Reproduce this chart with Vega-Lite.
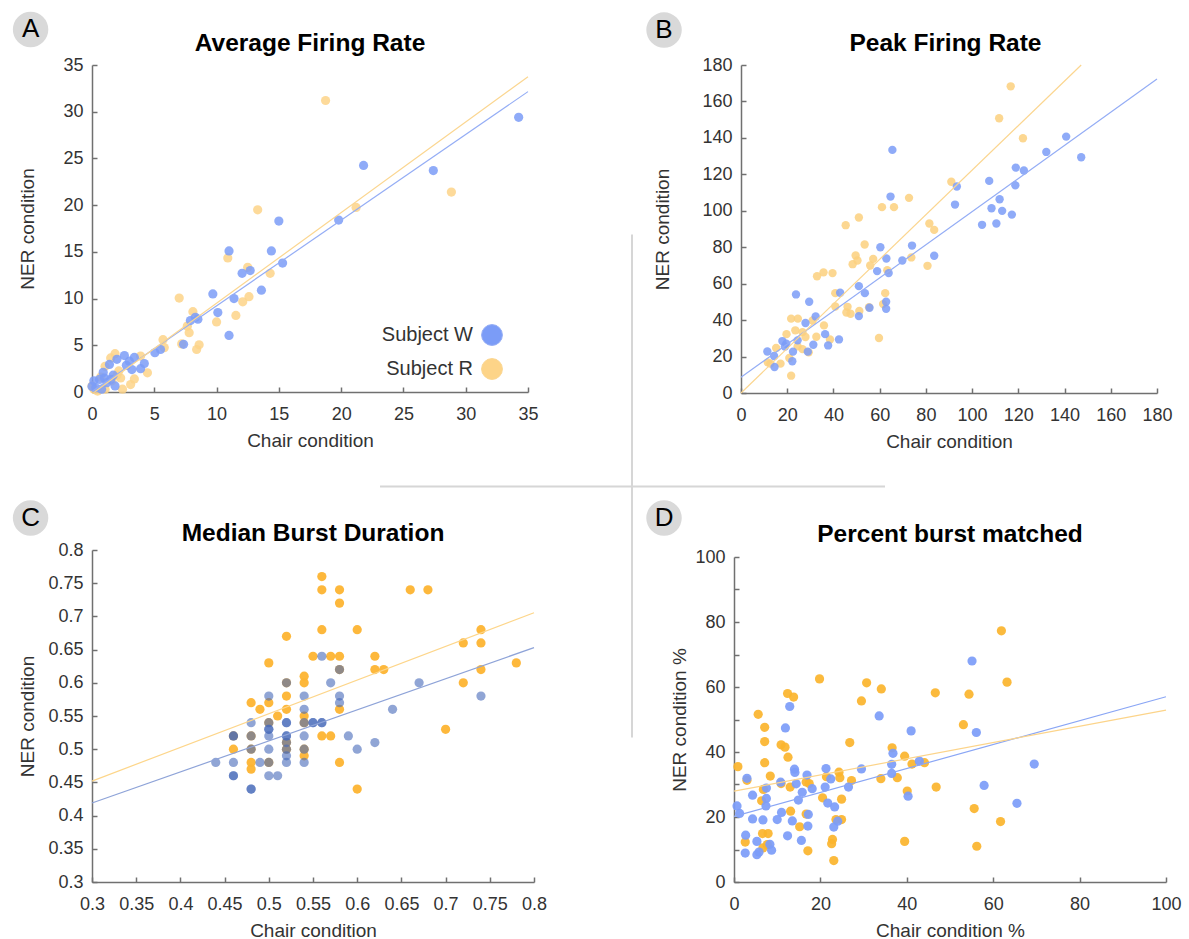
{
  "$schema": "https://vega.github.io/schema/vega-lite/v6.json",
  "autosize": {"type": "none"},
  "padding": {"left": 92, "top": 65, "right": 1097, "bottom": 874},
  "background": "white",
  "columns": 2,
  "spacing": {"row": 157, "column": 200},
  "bounds": "flush",
  "align": "each",
  "resolve": {"scale": {"color": "independent", "stroke": "independent"}, "legend": {"color": "independent"}},
  "datasets": {
    "A_pts": [
      {"subject": "Subject R", "chair": 0, "ner": 0.65}, {"subject": "Subject R", "chair": 0.15, "ner": 0.3}, {"subject": "Subject R", "chair": 0.45, "ner": 0.1}, {"subject": "Subject R", "chair": 1.05, "ner": 0.3}, {"subject": "Subject R", "chair": 2.45, "ner": 0.3}, {"subject": "Subject R", "chair": 3.1, "ner": 0.8}, {"subject": "Subject R", "chair": 3.4, "ner": 1.4}, {"subject": "Subject R", "chair": 2.3, "ner": 1.5}, {"subject": "Subject R", "chair": 2.15, "ner": 2.25}, {"subject": "Subject R", "chair": 1.05, "ner": 2.75}, {"subject": "Subject R", "chair": 1.5, "ner": 3.65}, {"subject": "Subject R", "chair": 1.85, "ner": 4.1}, {"subject": "Subject R", "chair": 3.9, "ner": 3.85}, {"subject": "Subject R", "chair": 4.45, "ner": 2.05}, {"subject": "Subject R", "chair": 5.7, "ner": 5.6}, {"subject": "Subject R", "chair": 5.8, "ner": 4.75}, {"subject": "Subject R", "chair": 7.2, "ner": 5.15}, {"subject": "Subject R", "chair": 8.6, "ner": 5.05}, {"subject": "Subject R", "chair": 8.4, "ner": 4.55}, {"subject": "Subject R", "chair": 7.65, "ner": 7.05}, {"subject": "Subject R", "chair": 7.8, "ner": 6.35}, {"subject": "Subject R", "chair": 7.0, "ner": 10.05}, {"subject": "Subject R", "chair": 8.1, "ner": 8.6}, {"subject": "Subject R", "chair": 10.0, "ner": 7.5}, {"subject": "Subject R", "chair": 11.55, "ner": 8.2}, {"subject": "Subject R", "chair": 12.1, "ner": 9.65}, {"subject": "Subject R", "chair": 12.6, "ner": 10.2}, {"subject": "Subject R", "chair": 14.3, "ner": 12.7}, {"subject": "Subject R", "chair": 12.5, "ner": 13.35}, {"subject": "Subject R", "chair": 10.9, "ner": 14.35}, {"subject": "Subject R", "chair": 13.3, "ner": 19.5}, {"subject": "Subject R", "chair": 21.2, "ner": 19.75}, {"subject": "Subject R", "chair": 28.85, "ner": 21.4}, {"subject": "Subject R", "chair": 18.75, "ner": 31.2}, {"subject": "Subject R", "chair": 1.6, "ner": 1.2}, {"subject": "Subject R", "chair": 0.7, "ner": 1.6}, {"subject": "Subject R", "chair": 2.0, "ner": 1.8},
      {"subject": "Subject W", "chair": 34.25, "ner": 29.4}, {"subject": "Subject W", "chair": 21.8, "ner": 24.25}, {"subject": "Subject W", "chair": 27.4, "ner": 23.7}, {"subject": "Subject W", "chair": 19.8, "ner": 18.4}, {"subject": "Subject W", "chair": 15.0, "ner": 18.3}, {"subject": "Subject W", "chair": 11.0, "ner": 15.1}, {"subject": "Subject W", "chair": 14.4, "ner": 15.1}, {"subject": "Subject W", "chair": 15.3, "ner": 13.8}, {"subject": "Subject W", "chair": 12.05, "ner": 12.7}, {"subject": "Subject W", "chair": 12.7, "ner": 13.0}, {"subject": "Subject W", "chair": 13.6, "ner": 10.9}, {"subject": "Subject W", "chair": 9.7, "ner": 10.5}, {"subject": "Subject W", "chair": 11.4, "ner": 10.0}, {"subject": "Subject W", "chair": 10.1, "ner": 8.5}, {"subject": "Subject W", "chair": 11.0, "ner": 6.05}, {"subject": "Subject W", "chair": 7.9, "ner": 7.65}, {"subject": "Subject W", "chair": 8.5, "ner": 7.8}, {"subject": "Subject W", "chair": 8.3, "ner": 8.0}, {"subject": "Subject W", "chair": 7.35, "ner": 5.1}, {"subject": "Subject W", "chair": 5.05, "ner": 4.2}, {"subject": "Subject W", "chair": 5.5, "ner": 4.55}, {"subject": "Subject W", "chair": 4.2, "ner": 3.05}, {"subject": "Subject W", "chair": 3.9, "ner": 2.5}, {"subject": "Subject W", "chair": 3.4, "ner": 3.7}, {"subject": "Subject W", "chair": 3.2, "ner": 2.4}, {"subject": "Subject W", "chair": 2.76, "ner": 2.85}, {"subject": "Subject W", "chair": 2.6, "ner": 3.9}, {"subject": "Subject W", "chair": 2.0, "ner": 3.5}, {"subject": "Subject W", "chair": 1.4, "ner": 2.95}, {"subject": "Subject W", "chair": 1.7, "ner": 1.8}, {"subject": "Subject W", "chair": 0.9, "ner": 2.1}, {"subject": "Subject W", "chair": 0.6, "ner": 1.35}, {"subject": "Subject W", "chair": 0.15, "ner": 1.2}, {"subject": "Subject W", "chair": 0.3, "ner": 0.45}, {"subject": "Subject W", "chair": 1.2, "ner": 1.0}, {"subject": "Subject W", "chair": 1.85, "ner": 0.65}, {"subject": "Subject W", "chair": 1.5, "ner": 1.35}, {"subject": "Subject W", "chair": 0.0, "ner": 0.6}, {"subject": "Subject W", "chair": 0.77, "ner": 0.3}, {"subject": "Subject W", "chair": 3.0, "ner": 3.3}, {"subject": "Subject W", "chair": 1.0, "ner": 1.5}
    ],
    "A_fit": [
      {"subject": "Subject W", "chair": 0, "ner": 0.05}, {"subject": "Subject W", "chair": 35, "ner": 32.15},
      {"subject": "Subject R", "chair": 0.2, "ner": 0}, {"subject": "Subject R", "chair": 35, "ner": 33.75}
    ],
    "B_pts": [
      {"subject": "Subject R", "chair": 116.7, "ner": 168.3}, {"subject": "Subject R", "chair": 111.7, "ner": 150.8}, {"subject": "Subject R", "chair": 122.0, "ner": 139.8}, {"subject": "Subject R", "chair": 91.0, "ner": 115.9}, {"subject": "Subject R", "chair": 72.7, "ner": 107.1}, {"subject": "Subject R", "chair": 61.0, "ner": 102.0}, {"subject": "Subject R", "chair": 66.2, "ner": 102.0}, {"subject": "Subject R", "chair": 45.3, "ner": 92.1}, {"subject": "Subject R", "chair": 51.0, "ner": 96.3}, {"subject": "Subject R", "chair": 81.5, "ner": 93.0}, {"subject": "Subject R", "chair": 83.6, "ner": 89.5}, {"subject": "Subject R", "chair": 53.5, "ner": 81.5}, {"subject": "Subject R", "chair": 49.6, "ner": 75.5}, {"subject": "Subject R", "chair": 50.4, "ner": 72.7}, {"subject": "Subject R", "chair": 57.2, "ner": 73.6}, {"subject": "Subject R", "chair": 48.3, "ner": 70.7}, {"subject": "Subject R", "chair": 55.9, "ner": 70.0}, {"subject": "Subject R", "chair": 73.7, "ner": 74.4}, {"subject": "Subject R", "chair": 80.7, "ner": 69.8}, {"subject": "Subject R", "chair": 63.3, "ner": 67.4}, {"subject": "Subject R", "chair": 32.9, "ner": 64.1}, {"subject": "Subject R", "chair": 35.7, "ner": 66.2}, {"subject": "Subject R", "chair": 39.6, "ner": 65.8}, {"subject": "Subject R", "chair": 40.8, "ner": 54.8}, {"subject": "Subject R", "chair": 62.4, "ner": 54.8}, {"subject": "Subject R", "chair": 40.8, "ner": 47.5}, {"subject": "Subject R", "chair": 46.1, "ner": 47.3}, {"subject": "Subject R", "chair": 45.6, "ner": 44.2}, {"subject": "Subject R", "chair": 47.4, "ner": 43.5}, {"subject": "Subject R", "chair": 51.2, "ner": 45.0}, {"subject": "Subject R", "chair": 55.4, "ner": 47.1}, {"subject": "Subject R", "chair": 61.5, "ner": 48.8}, {"subject": "Subject R", "chair": 59.7, "ner": 30.2}, {"subject": "Subject R", "chair": 21.7, "ner": 40.8}, {"subject": "Subject R", "chair": 24.6, "ner": 40.8}, {"subject": "Subject R", "chair": 31.0, "ner": 39.8}, {"subject": "Subject R", "chair": 35.9, "ner": 37.1}, {"subject": "Subject R", "chair": 38.5, "ner": 29.4}, {"subject": "Subject R", "chair": 32.6, "ner": 30.9}, {"subject": "Subject R", "chair": 19.7, "ner": 32.3}, {"subject": "Subject R", "chair": 23.5, "ner": 34.4}, {"subject": "Subject R", "chair": 26.6, "ner": 33.4}, {"subject": "Subject R", "chair": 27.9, "ner": 30.7}, {"subject": "Subject R", "chair": 21.7, "ner": 9.5}, {"subject": "Subject R", "chair": 17.1, "ner": 16.1}, {"subject": "Subject R", "chair": 12.7, "ner": 16.1}, {"subject": "Subject R", "chair": 15.2, "ner": 24.7}, {"subject": "Subject R", "chair": 20.9, "ner": 19.2}, {"subject": "Subject R", "chair": 24.5, "ner": 25.6}, {"subject": "Subject R", "chair": 26.6, "ner": 24.1}, {"subject": "Subject R", "chair": 29.3, "ner": 22.3}, {"subject": "Subject R", "chair": 11.6, "ner": 16.8},
      {"subject": "Subject W", "chair": 140.7, "ner": 140.7}, {"subject": "Subject W", "chair": 147.2, "ner": 129.4}, {"subject": "Subject W", "chair": 132.1, "ner": 132.3}, {"subject": "Subject W", "chair": 118.9, "ner": 123.7}, {"subject": "Subject W", "chair": 122.4, "ner": 122.1}, {"subject": "Subject W", "chair": 118.7, "ner": 114.0}, {"subject": "Subject W", "chair": 107.4, "ner": 116.4}, {"subject": "Subject W", "chair": 93.4, "ner": 113.3}, {"subject": "Subject W", "chair": 92.6, "ner": 103.4}, {"subject": "Subject W", "chair": 111.9, "ner": 106.3}, {"subject": "Subject W", "chair": 108.4, "ner": 101.4}, {"subject": "Subject W", "chair": 113.0, "ner": 99.95}, {"subject": "Subject W", "chair": 117.2, "ner": 97.9}, {"subject": "Subject W", "chair": 104.3, "ner": 92.3}, {"subject": "Subject W", "chair": 110.5, "ner": 93.0}, {"subject": "Subject W", "chair": 65.5, "ner": 133.4}, {"subject": "Subject W", "chair": 64.7, "ner": 107.8}, {"subject": "Subject W", "chair": 60.3, "ner": 80.0}, {"subject": "Subject W", "chair": 74.0, "ner": 80.9}, {"subject": "Subject W", "chair": 69.8, "ner": 72.7}, {"subject": "Subject W", "chair": 62.9, "ner": 73.8}, {"subject": "Subject W", "chair": 83.6, "ner": 75.3}, {"subject": "Subject W", "chair": 58.9, "ner": 66.9}, {"subject": "Subject W", "chair": 63.9, "ner": 65.8}, {"subject": "Subject W", "chair": 51.0, "ner": 58.65}, {"subject": "Subject W", "chair": 53.6, "ner": 54.8}, {"subject": "Subject W", "chair": 42.9, "ner": 55.0}, {"subject": "Subject W", "chair": 62.8, "ner": 50.1}, {"subject": "Subject W", "chair": 62.8, "ner": 46.2}, {"subject": "Subject W", "chair": 55.6, "ner": 46.8}, {"subject": "Subject W", "chair": 51.0, "ner": 42.2}, {"subject": "Subject W", "chair": 23.8, "ner": 54.1}, {"subject": "Subject W", "chair": 29.5, "ner": 50.1}, {"subject": "Subject W", "chair": 32.3, "ner": 42.0}, {"subject": "Subject W", "chair": 27.9, "ner": 38.4}, {"subject": "Subject W", "chair": 36.4, "ner": 32.3}, {"subject": "Subject W", "chair": 31.3, "ner": 26.5}, {"subject": "Subject W", "chair": 37.7, "ner": 26.1}, {"subject": "Subject W", "chair": 42.4, "ner": 29.4}, {"subject": "Subject W", "chair": 17.9, "ner": 28.5}, {"subject": "Subject W", "chair": 19.6, "ner": 27.0}, {"subject": "Subject W", "chair": 11.4, "ner": 22.8}, {"subject": "Subject W", "chair": 14.3, "ner": 20.3}, {"subject": "Subject W", "chair": 14.5, "ner": 14.3}, {"subject": "Subject W", "chair": 22.2, "ner": 17.4}, {"subject": "Subject W", "chair": 22.5, "ner": 22.7}, {"subject": "Subject W", "chair": 24.5, "ner": 28.9}, {"subject": "Subject W", "chair": 28.9, "ner": 22.7}, {"subject": "Subject W", "chair": 19.0, "ner": 25.5}
    ],
    "B_fit": [
      {"subject": "Subject W", "chair": 0, "ner": 8.6}, {"subject": "Subject W", "chair": 180, "ner": 172.3},
      {"subject": "Subject R", "chair": 0, "ner": 0}, {"subject": "Subject R", "chair": 147.2, "ner": 180}
    ],
    "C_pts": [
      {"subject": "Subject R", "chair": 0.56, "ner": 0.76}, {"subject": "Subject R", "chair": 0.56, "ner": 0.74}, {"subject": "Subject R", "chair": 0.58, "ner": 0.74}, {"subject": "Subject R", "chair": 0.58, "ner": 0.72}, {"subject": "Subject R", "chair": 0.66, "ner": 0.74}, {"subject": "Subject R", "chair": 0.68, "ner": 0.74}, {"subject": "Subject R", "chair": 0.56, "ner": 0.68}, {"subject": "Subject R", "chair": 0.6, "ner": 0.68}, {"subject": "Subject R", "chair": 0.74, "ner": 0.68}, {"subject": "Subject R", "chair": 0.52, "ner": 0.67}, {"subject": "Subject R", "chair": 0.72, "ner": 0.66}, {"subject": "Subject R", "chair": 0.74, "ner": 0.66}, {"subject": "Subject R", "chair": 0.55, "ner": 0.64}, {"subject": "Subject R", "chair": 0.57, "ner": 0.64}, {"subject": "Subject R", "chair": 0.58, "ner": 0.64}, {"subject": "Subject R", "chair": 0.62, "ner": 0.64}, {"subject": "Subject R", "chair": 0.5, "ner": 0.63}, {"subject": "Subject R", "chair": 0.78, "ner": 0.63}, {"subject": "Subject R", "chair": 0.58, "ner": 0.62}, {"subject": "Subject R", "chair": 0.62, "ner": 0.62}, {"subject": "Subject R", "chair": 0.63, "ner": 0.62}, {"subject": "Subject R", "chair": 0.74, "ner": 0.62}, {"subject": "Subject R", "chair": 0.54, "ner": 0.61}, {"subject": "Subject R", "chair": 0.52, "ner": 0.6}, {"subject": "Subject R", "chair": 0.54, "ner": 0.6}, {"subject": "Subject R", "chair": 0.72, "ner": 0.6}, {"subject": "Subject R", "chair": 0.52, "ner": 0.58}, {"subject": "Subject R", "chair": 0.48, "ner": 0.57}, {"subject": "Subject R", "chair": 0.5, "ner": 0.57}, {"subject": "Subject R", "chair": 0.49, "ner": 0.56}, {"subject": "Subject R", "chair": 0.52, "ner": 0.56}, {"subject": "Subject R", "chair": 0.58, "ner": 0.56}, {"subject": "Subject R", "chair": 0.51, "ner": 0.55}, {"subject": "Subject R", "chair": 0.54, "ner": 0.55}, {"subject": "Subject R", "chair": 0.5, "ner": 0.54}, {"subject": "Subject R", "chair": 0.54, "ner": 0.54}, {"subject": "Subject R", "chair": 0.7, "ner": 0.53}, {"subject": "Subject R", "chair": 0.56, "ner": 0.52}, {"subject": "Subject R", "chair": 0.57, "ner": 0.52}, {"subject": "Subject R", "chair": 0.46, "ner": 0.52}, {"subject": "Subject R", "chair": 0.48, "ner": 0.52}, {"subject": "Subject R", "chair": 0.52, "ner": 0.51}, {"subject": "Subject R", "chair": 0.46, "ner": 0.5}, {"subject": "Subject R", "chair": 0.48, "ner": 0.5}, {"subject": "Subject R", "chair": 0.52, "ner": 0.5}, {"subject": "Subject R", "chair": 0.54, "ner": 0.5}, {"subject": "Subject R", "chair": 0.54, "ner": 0.49}, {"subject": "Subject R", "chair": 0.48, "ner": 0.48}, {"subject": "Subject R", "chair": 0.5, "ner": 0.48}, {"subject": "Subject R", "chair": 0.58, "ner": 0.48}, {"subject": "Subject R", "chair": 0.48, "ner": 0.47}, {"subject": "Subject R", "chair": 0.6, "ner": 0.44},
      {"subject": "Subject W", "chair": 0.56, "ner": 0.64}, {"subject": "Subject W", "chair": 0.57, "ner": 0.6}, {"subject": "Subject W", "chair": 0.67, "ner": 0.6}, {"subject": "Subject W", "chair": 0.74, "ner": 0.58}, {"subject": "Subject W", "chair": 0.58, "ner": 0.58}, {"subject": "Subject W", "chair": 0.58, "ner": 0.57}, {"subject": "Subject W", "chair": 0.5, "ner": 0.58}, {"subject": "Subject W", "chair": 0.54, "ner": 0.58}, {"subject": "Subject W", "chair": 0.64, "ner": 0.56}, {"subject": "Subject W", "chair": 0.54, "ner": 0.56}, {"subject": "Subject W", "chair": 0.48, "ner": 0.54}, {"subject": "Subject W", "chair": 0.5, "ner": 0.54}, {"subject": "Subject W", "chair": 0.52, "ner": 0.54}, {"subject": "Subject W", "chair": 0.52, "ner": 0.54}, {"subject": "Subject W", "chair": 0.54, "ner": 0.54}, {"subject": "Subject W", "chair": 0.55, "ner": 0.54}, {"subject": "Subject W", "chair": 0.55, "ner": 0.54}, {"subject": "Subject W", "chair": 0.56, "ner": 0.54}, {"subject": "Subject W", "chair": 0.56, "ner": 0.54}, {"subject": "Subject W", "chair": 0.5, "ner": 0.53}, {"subject": "Subject W", "chair": 0.5, "ner": 0.53}, {"subject": "Subject W", "chair": 0.5, "ner": 0.52}, {"subject": "Subject W", "chair": 0.52, "ner": 0.52}, {"subject": "Subject W", "chair": 0.52, "ner": 0.52}, {"subject": "Subject W", "chair": 0.54, "ner": 0.52}, {"subject": "Subject W", "chair": 0.46, "ner": 0.52}, {"subject": "Subject W", "chair": 0.46, "ner": 0.52}, {"subject": "Subject W", "chair": 0.48, "ner": 0.52}, {"subject": "Subject W", "chair": 0.59, "ner": 0.52}, {"subject": "Subject W", "chair": 0.62, "ner": 0.51}, {"subject": "Subject W", "chair": 0.52, "ner": 0.51}, {"subject": "Subject W", "chair": 0.48, "ner": 0.5}, {"subject": "Subject W", "chair": 0.5, "ner": 0.5}, {"subject": "Subject W", "chair": 0.52, "ner": 0.5}, {"subject": "Subject W", "chair": 0.54, "ner": 0.5}, {"subject": "Subject W", "chair": 0.6, "ner": 0.5}, {"subject": "Subject W", "chair": 0.52, "ner": 0.49}, {"subject": "Subject W", "chair": 0.44, "ner": 0.48}, {"subject": "Subject W", "chair": 0.46, "ner": 0.48}, {"subject": "Subject W", "chair": 0.49, "ner": 0.48}, {"subject": "Subject W", "chair": 0.5, "ner": 0.48}, {"subject": "Subject W", "chair": 0.52, "ner": 0.48}, {"subject": "Subject W", "chair": 0.54, "ner": 0.48}, {"subject": "Subject W", "chair": 0.46, "ner": 0.46}, {"subject": "Subject W", "chair": 0.46, "ner": 0.46}, {"subject": "Subject W", "chair": 0.5, "ner": 0.46}, {"subject": "Subject W", "chair": 0.51, "ner": 0.46}, {"subject": "Subject W", "chair": 0.48, "ner": 0.44}, {"subject": "Subject W", "chair": 0.48, "ner": 0.44}, {"subject": "Subject W", "chair": 0.52, "ner": 0.6}, {"subject": "Subject W", "chair": 0.58, "ner": 0.62}
    ],
    "C_fit": [
      {"subject": "Subject W", "chair": 0.3, "ner": 0.419}, {"subject": "Subject W", "chair": 0.8, "ner": 0.653},
      {"subject": "Subject R", "chair": 0.3, "ner": 0.452}, {"subject": "Subject R", "chair": 0.8, "ner": 0.7055}
    ],
    "D_pts": [
      {"subject": "Subject R", "chair": 61.9, "ner": 77.3}, {"subject": "Subject R", "chair": 63.2, "ner": 61.5}, {"subject": "Subject R", "chair": 19.8, "ner": 62.5}, {"subject": "Subject R", "chair": 30.7, "ner": 61.3}, {"subject": "Subject R", "chair": 34.1, "ner": 59.4}, {"subject": "Subject R", "chair": 46.6, "ner": 58.2}, {"subject": "Subject R", "chair": 54.4, "ner": 57.8}, {"subject": "Subject R", "chair": 12.4, "ner": 58.0}, {"subject": "Subject R", "chair": 13.8, "ner": 56.9}, {"subject": "Subject R", "chair": 29.5, "ner": 55.7}, {"subject": "Subject R", "chair": 5.6, "ner": 51.6}, {"subject": "Subject R", "chair": 53.1, "ner": 48.4}, {"subject": "Subject R", "chair": 7.1, "ner": 47.6}, {"subject": "Subject R", "chair": 7.1, "ner": 43.2}, {"subject": "Subject R", "chair": 26.8, "ner": 42.9}, {"subject": "Subject R", "chair": 10.9, "ner": 42.2}, {"subject": "Subject R", "chair": 11.8, "ner": 41.5}, {"subject": "Subject R", "chair": 12.5, "ner": 38.4}, {"subject": "Subject R", "chair": 36.6, "ner": 41.3}, {"subject": "Subject R", "chair": 39.5, "ner": 38.7}, {"subject": "Subject R", "chair": 7.1, "ner": 36.7}, {"subject": "Subject R", "chair": 0.9, "ner": 35.5}, {"subject": "Subject R", "chair": 41.2, "ner": 36.3}, {"subject": "Subject R", "chair": 44.1, "ner": 36.7}, {"subject": "Subject R", "chair": 24.3, "ner": 33.8}, {"subject": "Subject R", "chair": 8.4, "ner": 32.6}, {"subject": "Subject R", "chair": 3.0, "ner": 31.3}, {"subject": "Subject R", "chair": 34.0, "ner": 31.8}, {"subject": "Subject R", "chair": 37.8, "ner": 32.1}, {"subject": "Subject R", "chair": 21.4, "ner": 32.4}, {"subject": "Subject R", "chair": 24.5, "ner": 32.1}, {"subject": "Subject R", "chair": 27.2, "ner": 31.2}, {"subject": "Subject R", "chair": 16.7, "ner": 30.8}, {"subject": "Subject R", "chair": 17.4, "ner": 30.3}, {"subject": "Subject R", "chair": 10.9, "ner": 30.3}, {"subject": "Subject R", "chair": 13.0, "ner": 29.2}, {"subject": "Subject R", "chair": 6.8, "ner": 28.5}, {"subject": "Subject R", "chair": 46.8, "ner": 29.2}, {"subject": "Subject R", "chair": 40.1, "ner": 28.0}, {"subject": "Subject R", "chair": 20.5, "ner": 25.9}, {"subject": "Subject R", "chair": 24.9, "ner": 25.5}, {"subject": "Subject R", "chair": 6.4, "ner": 25.0}, {"subject": "Subject R", "chair": 13.1, "ner": 21.8}, {"subject": "Subject R", "chair": 16.7, "ner": 20.9}, {"subject": "Subject R", "chair": 55.6, "ner": 22.6}, {"subject": "Subject R", "chair": 24.9, "ner": 19.2}, {"subject": "Subject R", "chair": 23.6, "ner": 19.2}, {"subject": "Subject R", "chair": 61.7, "ner": 18.6}, {"subject": "Subject R", "chair": 15.2, "ner": 17.0}, {"subject": "Subject R", "chair": 6.6, "ner": 14.9}, {"subject": "Subject R", "chair": 7.9, "ner": 14.9}, {"subject": "Subject R", "chair": 2.6, "ner": 12.3}, {"subject": "Subject R", "chair": 22.8, "ner": 13.1}, {"subject": "Subject R", "chair": 22.6, "ner": 11.8}, {"subject": "Subject R", "chair": 39.5, "ner": 12.5}, {"subject": "Subject R", "chair": 56.2, "ner": 11.0}, {"subject": "Subject R", "chair": 6.7, "ner": 10.5}, {"subject": "Subject R", "chair": 17.1, "ner": 9.6}, {"subject": "Subject R", "chair": 23.1, "ner": 6.6}, {"subject": "Subject R", "chair": 7.7, "ner": 11.5},
      {"subject": "Subject W", "chair": 55.1, "ner": 68.0}, {"subject": "Subject W", "chair": 12.9, "ner": 54.0}, {"subject": "Subject W", "chair": 33.6, "ner": 51.1}, {"subject": "Subject W", "chair": 11.9, "ner": 47.4}, {"subject": "Subject W", "chair": 41.0, "ner": 46.5}, {"subject": "Subject W", "chair": 56.1, "ner": 46.0}, {"subject": "Subject W", "chair": 36.8, "ner": 39.6}, {"subject": "Subject W", "chair": 69.5, "ner": 36.3}, {"subject": "Subject W", "chair": 42.9, "ner": 37.2}, {"subject": "Subject W", "chair": 36.5, "ner": 36.2}, {"subject": "Subject W", "chair": 36.5, "ner": 33.4}, {"subject": "Subject W", "chair": 14.0, "ner": 34.7}, {"subject": "Subject W", "chair": 14.1, "ner": 33.7}, {"subject": "Subject W", "chair": 21.3, "ner": 34.9}, {"subject": "Subject W", "chair": 29.5, "ner": 34.8}, {"subject": "Subject W", "chair": 16.9, "ner": 32.9}, {"subject": "Subject W", "chair": 3.0, "ner": 31.9}, {"subject": "Subject W", "chair": 22.4, "ner": 31.7}, {"subject": "Subject W", "chair": 10.8, "ner": 30.7}, {"subject": "Subject W", "chair": 14.4, "ner": 30.2}, {"subject": "Subject W", "chair": 18.1, "ner": 28.7}, {"subject": "Subject W", "chair": 21.1, "ner": 29.2}, {"subject": "Subject W", "chair": 26.5, "ner": 29.2}, {"subject": "Subject W", "chair": 7.5, "ner": 28.9}, {"subject": "Subject W", "chair": 15.8, "ner": 27.6}, {"subject": "Subject W", "chair": 57.9, "ner": 29.7}, {"subject": "Subject W", "chair": 4.3, "ner": 26.7}, {"subject": "Subject W", "chair": 7.5, "ner": 25.7}, {"subject": "Subject W", "chair": 14.9, "ner": 25.2}, {"subject": "Subject W", "chair": 0.7, "ner": 23.4}, {"subject": "Subject W", "chair": 7.4, "ner": 23.4}, {"subject": "Subject W", "chair": 21.7, "ner": 24.3}, {"subject": "Subject W", "chair": 23.3, "ner": 23.1}, {"subject": "Subject W", "chair": 40.3, "ner": 26.4}, {"subject": "Subject W", "chair": 65.5, "ner": 24.2}, {"subject": "Subject W", "chair": 1.3, "ner": 21.1}, {"subject": "Subject W", "chair": 11.0, "ner": 21.4}, {"subject": "Subject W", "chair": 17.2, "ner": 20.8}, {"subject": "Subject W", "chair": 4.3, "ner": 19.4}, {"subject": "Subject W", "chair": 6.7, "ner": 19.1}, {"subject": "Subject W", "chair": 10.0, "ner": 19.2}, {"subject": "Subject W", "chair": 13.5, "ner": 18.8}, {"subject": "Subject W", "chair": 24.0, "ner": 18.7}, {"subject": "Subject W", "chair": 23.1, "ner": 16.9}, {"subject": "Subject W", "chair": 17.1, "ner": 17.2}, {"subject": "Subject W", "chair": 2.7, "ner": 14.4}, {"subject": "Subject W", "chair": 12.4, "ner": 14.2}, {"subject": "Subject W", "chair": 15.6, "ner": 12.8}, {"subject": "Subject W", "chair": 5.3, "ner": 12.5}, {"subject": "Subject W", "chair": 8.3, "ner": 11.6}, {"subject": "Subject W", "chair": 2.6, "ner": 8.9}, {"subject": "Subject W", "chair": 5.3, "ner": 8.4}, {"subject": "Subject W", "chair": 5.8, "ner": 9.2}, {"subject": "Subject W", "chair": 8.7, "ner": 9.8}
    ],
    "D_fit": [
      {"subject": "Subject W", "chair": 0, "ner": 20.2}, {"subject": "Subject W", "chair": 100, "ner": 57.0},
      {"subject": "Subject R", "chair": 0, "ner": 27.95}, {"subject": "Subject R", "chair": 100, "ner": 52.9}
    ]
  },
  "concat": [
    {
      "width": 436, "height": 327,
      "title": {"text": "Average Firing Rate", "offset": -44.5},
      "layer": [
        {
          "data": {"name": "A_pts"},
          "mark": {"type": "circle", "size": 85, "opacity": 0.85},
          "encoding": {
            "x": {"field": "chair", "type": "quantitative", "scale": {"domain": [0, 35], "nice": false, "zero": false}, "axis": {"title": "Chair condition", "values": [0, 5, 10, 15, 20, 25, 30, 35], "tickCount": 40}},
            "y": {"field": "ner", "type": "quantitative", "scale": {"domain": [0, 35], "nice": false, "zero": false}, "axis": {"title": "NER condition", "values": [0, 5, 10, 15, 20, 25, 30, 35], "tickCount": 40, "titlePadding": 25}},
            "color": {"field": "subject", "type": "nominal", "scale": {"domain": ["Subject W", "Subject R"], "range": ["#7b9cf7", "#fdd488"]},
              "legend": {"title": null, "orient": "none", "legendX": 389, "legendY": 259, "symbolSize": 434, "symbolType": "circle", "symbolStrokeColor": "#555555", "symbolStrokeWidth": 1, "symbolOpacity": 1, "labelFontSize": 20, "labelFont": "Liberation Sans", "labelColor": "#333333", "labelAlign": "right", "labelOffset": -30, "rowPadding": 8, "padding": 0,
                "encode": {"symbols": {"update": {"stroke": {"value": "#555555"}, "strokeWidth": {"value": 1}, "opacity": {"value": 1}}}}}}
          }
        },
        {
          "data": {"name": "A_fit"},
          "mark": {"type": "line", "strokeWidth": 1.2},
          "encoding": {
            "x": {"field": "chair", "type": "quantitative"},
            "y": {"field": "ner", "type": "quantitative"},
            "stroke": {"field": "subject", "type": "nominal", "scale": {"domain": ["Subject W", "Subject R"], "range": ["#94adf5", "#fbd690"]}, "legend": null}
          }
        },
        {
          "data": {"values": [{"label": "A"}]},
          "mark": {"type": "circle", "size": 1257, "color": "#d9d9d9", "opacity": 1},
          "encoding": {"x": {"datum": -4.93, "type": "quantitative"}, "y": {"datum": 38.8, "type": "quantitative"}}
        },
        {
          "data": {"values": [{"label": "A"}]},
          "mark": {"type": "text", "fontSize": 26, "font": "Liberation Sans", "color": "#000000"},
          "encoding": {"x": {"datum": -4.93, "type": "quantitative"}, "y": {"datum": 38.8, "type": "quantitative"}, "text": {"field": "label"}}
        },
        {
          "data": {"values": [{"label": "divider"}]},
          "mark": {"type": "rule", "color": "#d6d6d6", "strokeWidth": 2},
          "encoding": {"x": {"datum": 23.12, "type": "quantitative"}, "x2": {"datum": 63.66}, "y": {"datum": -10.11, "type": "quantitative"}}
        },
        {
          "data": {"values": [{"label": "divider"}]},
          "mark": {"type": "rule", "color": "#d6d6d6", "strokeWidth": 2},
          "encoding": {"x": {"datum": 43.35, "type": "quantitative"}, "y": {"datum": 16.86, "type": "quantitative"}, "y2": {"datum": -36.98}}
        }
      ]
    },
    {
      "width": 423, "height": 328,
      "title": {"text": "Peak Firing Rate", "offset": -44.5},
      "layer": [
        {
          "data": {"name": "B_pts"},
          "mark": {"type": "circle", "size": 70, "opacity": 0.85},
          "encoding": {
            "x": {"field": "chair", "type": "quantitative", "scale": {"domain": [0, 180], "nice": false, "range": [7, 423]}, "axis": {"title": "Chair condition", "values": [0, 20, 40, 60, 80, 100, 120, 140, 160, 180], "tickCount": 40}},
            "y": {"field": "ner", "type": "quantitative", "scale": {"domain": [0, 180], "nice": false}, "axis": {"title": "NER condition", "values": [0, 20, 40, 60, 80, 100, 120, 140, 160, 180], "tickCount": 40, "titlePadding": 29.5, "offset": -7}},
            "color": {"field": "subject", "type": "nominal", "scale": {"domain": ["Subject W", "Subject R"], "range": ["#7b9cf7", "#fcd07e"]}, "legend": null}
          }
        },
        {
          "data": {"name": "B_fit"},
          "mark": {"type": "line", "strokeWidth": 1.2},
          "encoding": {
            "x": {"field": "chair", "type": "quantitative"},
            "y": {"field": "ner", "type": "quantitative"},
            "stroke": {"field": "subject", "type": "nominal", "scale": {"domain": ["Subject W", "Subject R"], "range": ["#94adf5", "#fbd690"]}, "legend": null}
          }
        },
        {
          "data": {"values": [{"label": "B"}]},
          "mark": {"type": "circle", "size": 1257, "color": "#d9d9d9", "opacity": 1},
          "encoding": {"x": {"datum": -33.3, "type": "quantitative"}, "y": {"datum": 199.2, "type": "quantitative"}}
        },
        {
          "data": {"values": [{"label": "B"}]},
          "mark": {"type": "text", "fontSize": 26, "font": "Liberation Sans", "color": "#000000"},
          "encoding": {"x": {"datum": -33.3, "type": "quantitative"}, "y": {"datum": 199.2, "type": "quantitative"}, "text": {"field": "label"}}
        }
      ]
    },
    {
      "width": 442, "height": 332,
      "title": {"text": "Median Burst Duration", "offset": -46},
      "layer": [
        {
          "data": {"name": "C_pts"},
          "transform": [{"filter": "datum.subject === 'Subject R'"}],
          "mark": {"type": "circle", "size": 85, "opacity": 0.95},
          "encoding": {
            "x": {"field": "chair", "type": "quantitative", "scale": {"domain": [0.3, 0.8], "nice": false, "zero": false}, "axis": {"title": "Chair condition", "values": [0.3, 0.35, 0.4, 0.45, 0.5, 0.55, 0.6, 0.65, 0.7, 0.75, 0.8], "tickCount": 40, "format": ".2~f"}},
            "y": {"field": "ner", "type": "quantitative", "scale": {"domain": [0.3, 0.8], "nice": false, "zero": false}, "axis": {"title": "NER condition", "values": [0.3, 0.35, 0.4, 0.45, 0.5, 0.55, 0.6, 0.65, 0.7, 0.75, 0.8], "tickCount": 40, "format": ".2~f", "titlePadding": 10}},
            "color": {"field": "subject", "type": "nominal", "scale": {"domain": ["Subject W", "Subject R"], "range": ["#4669b9", "#fdb431"]}, "legend": null}
          }
        },
        {
          "data": {"name": "C_pts"},
          "transform": [{"filter": "datum.subject === 'Subject W'"}],
          "mark": {"type": "circle", "size": 85, "opacity": 0.6},
          "encoding": {
            "x": {"field": "chair", "type": "quantitative"},
            "y": {"field": "ner", "type": "quantitative"},
            "color": {"field": "subject", "type": "nominal", "legend": null}
          }
        },
        {
          "data": {"name": "C_fit"},
          "mark": {"type": "line", "strokeWidth": 1.2},
          "encoding": {
            "x": {"field": "chair", "type": "quantitative"},
            "y": {"field": "ner", "type": "quantitative"},
            "stroke": {"field": "subject", "type": "nominal", "scale": {"domain": ["Subject W", "Subject R"], "range": ["#8ea3d8", "#fdd68a"]}, "legend": null}
          }
        },
        {
          "data": {"values": [{"label": "C"}]},
          "mark": {"type": "circle", "size": 1257, "color": "#d9d9d9", "opacity": 1},
          "encoding": {"x": {"datum": 0.2305, "type": "quantitative"}, "y": {"datum": 0.8482, "type": "quantitative"}}
        },
        {
          "data": {"values": [{"label": "C"}]},
          "mark": {"type": "text", "fontSize": 26, "font": "Liberation Sans", "color": "#000000"},
          "encoding": {"x": {"datum": 0.2305, "type": "quantitative"}, "y": {"datum": 0.8482, "type": "quantitative"}, "text": {"field": "label"}}
        }
      ]
    },
    {
      "width": 432, "height": 332,
      "title": {"text": "Percent burst matched", "offset": -47.5},
      "layer": [
        {
          "data": {"name": "D_pts"},
          "mark": {"type": "circle", "size": 85, "opacity": 0.92},
          "encoding": {
            "x": {"field": "chair", "type": "quantitative", "scale": {"domain": [0, 100], "nice": false}, "axis": {"title": "Chair condition %", "values": [0, 20, 40, 60, 80, 100], "tickCount": 40}},
            "y": {"field": "ner", "type": "quantitative", "scale": {"domain": [0, 100], "nice": false, "range": [332, 7]}, "axis": {"title": "NER condition %", "values": [0, 10, 20, 30, 40, 50, 60, 70, 80, 90, 100], "tickCount": 40, "labelExpr": "datum.value % 20 === 0 ? datum.label : ''", "titlePadding": 5}},
            "color": {"field": "subject", "type": "nominal", "scale": {"domain": ["Subject W", "Subject R"], "range": ["#7c9cf8", "#fbb42c"]}, "legend": null}
          }
        },
        {
          "data": {"name": "D_fit"},
          "mark": {"type": "line", "strokeWidth": 1.2},
          "encoding": {
            "x": {"field": "chair", "type": "quantitative"},
            "y": {"field": "ner", "type": "quantitative"},
            "stroke": {"field": "subject", "type": "nominal", "scale": {"domain": ["Subject W", "Subject R"], "range": ["#8aa6f5", "#fcd48a"]}, "legend": null}
          }
        },
        {
          "data": {"values": [{"label": "D"}]},
          "mark": {"type": "circle", "size": 1257, "color": "#d9d9d9", "opacity": 1},
          "encoding": {"x": {"datum": -16.2, "type": "quantitative"}, "y": {"datum": 112.0, "type": "quantitative"}}
        },
        {
          "data": {"values": [{"label": "D"}]},
          "mark": {"type": "text", "fontSize": 26, "font": "Liberation Sans", "color": "#000000"},
          "encoding": {"x": {"datum": -16.2, "type": "quantitative"}, "y": {"datum": 112.0, "type": "quantitative"}, "text": {"field": "label"}}
        }
      ]
    }
  ],
  "config": {
    "font": "Liberation Sans",
    "view": {"stroke": null},
    "title": {"font": "Liberation Sans", "fontSize": 24.5, "fontWeight": "bold", "color": "#000000", "anchor": "middle", "frame": "group"},
    "axis": {
      "grid": false,
      "domainColor": "#707070", "domainWidth": 1.5,
      "tickColor": "#707070", "tickWidth": 1.5, "tickSize": -5,
      "labelFont": "Liberation Sans", "labelFontSize": 18, "labelColor": "#333333", "labelFlush": false,
      "labelOverlap": false,
      "titleFont": "Liberation Sans", "titleFontSize": 19, "titleFontWeight": "normal", "titleColor": "#333333"
    },
    "axisX": {"labelPadding": 18.5, "titlePadding": 7.5},
    "axisY": {"labelPadding": 14}
  }
}
